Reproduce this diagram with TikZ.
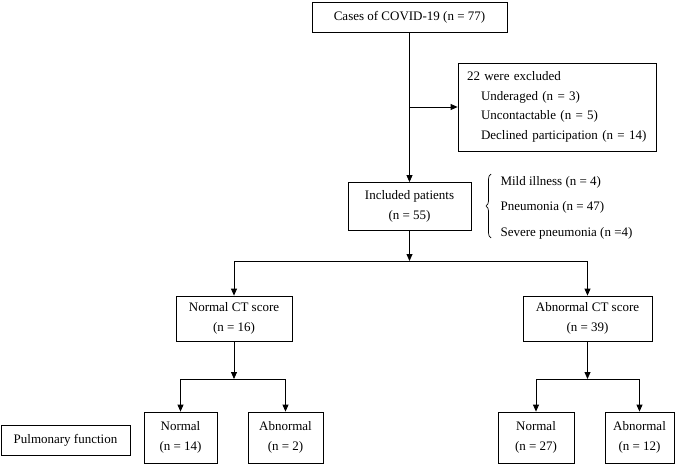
\documentclass[tikz,border=0pt]{standalone}
\usepackage{fontspec}
\setmainfont{Liberation Serif}
\usetikzlibrary{arrows.meta,decorations.pathreplacing}
\begin{document}
\begin{tikzpicture}[x=1pt,y=-1pt,
  every node/.style={font=\fontsize{13}{20}\selectfont},
  box/.style={draw,line width=0.8pt,inner sep=0pt,align=center},
  arr/.style={line width=0.8pt,-{Triangle[length=7pt,width=6pt]}},
  ln/.style={line width=0.8pt}]
\useasboundingbox (0,0) rectangle (680,465);
\fill[white] (0,0) rectangle (680,465);

\node[box,minimum width=195pt,minimum height=30pt] (top) at (409.5,17) {Cases of COVID-19 (n = 77)};
\node[box,minimum width=198pt,minimum height=88pt,align=left,text width=180pt,
      font=\fontsize{13}{19.5}\selectfont] (excl) at (557,107)
  {22 were excluded\\
   \hspace*{14pt}Underaged (n = 3)\\
   \hspace*{14pt}Uncontactable (n = 5)\\
   \hspace*{14pt}Declined participation (n = 14)};
\node[box,minimum width=123pt,minimum height=48pt] (incl) at (409.5,206.5) {Included patients\\(n = 55)};

\node[anchor=west] (mild) at (497,182) {Mild illness (n = 4)};
\node[anchor=west] (pneu) at (497,207.5) {Pneumonia (n = 47)};
\node[anchor=west] (sev) at (497,233) {Severe pneumonia (n =4)};
\draw[line width=0.7pt,decorate,decoration={brace,amplitude=5pt,aspect=0.5}] (491,238) -- (491,174);

\node[box,minimum width=116pt,minimum height=45pt] (nct) at (234,318.5) {Normal CT score\\(n = 16)};
\node[box,minimum width=129pt,minimum height=45pt] (act) at (587.5,318.5) {Abnormal CT score\\(n = 39)};

\node[box,minimum width=73pt,minimum height=51pt] (n1) at (180.5,437.5) {Normal\\(n = 14)};
\node[box,minimum width=75pt,minimum height=51pt] (a1) at (285.5,437.5) {Abnormal\\(n = 2)};
\node[box,minimum width=76pt,minimum height=51pt] (n2) at (536,437.5) {Normal\\(n = 27)};
\node[box,minimum width=69pt,minimum height=51pt] (a2) at (639.5,437.5) {Abnormal\\(n = 12)};
\node[box,minimum width=129pt,minimum height=30pt] (pf) at (65.5,440) {Pulmonary function};

% connectors
\coordinate (b1) at (top.south |- 0,107);
\draw[arr] (top.south) -- (incl.north);
\draw[arr] (b1) -- (excl.west);

\coordinate (j0) at (incl.south |- 0,261);
\draw[arr] (incl.south) -- (j0);
\draw[arr] (j0) -| (nct.north);
\draw[arr] (j0) -| (act.north);

\coordinate (j1) at (nct.south |- 0,379);
\draw[arr] (nct.south) -- (j1);
\draw[arr] (j1) -| (n1.north);
\draw[arr] (j1) -| (a1.north);

\coordinate (j2) at (act.south |- 0,379);
\draw[arr] (act.south) -- (j2);
\draw[arr] (j2) -| (n2.north);
\draw[arr] (j2) -| (a2.north);
\end{tikzpicture}
\end{document}
